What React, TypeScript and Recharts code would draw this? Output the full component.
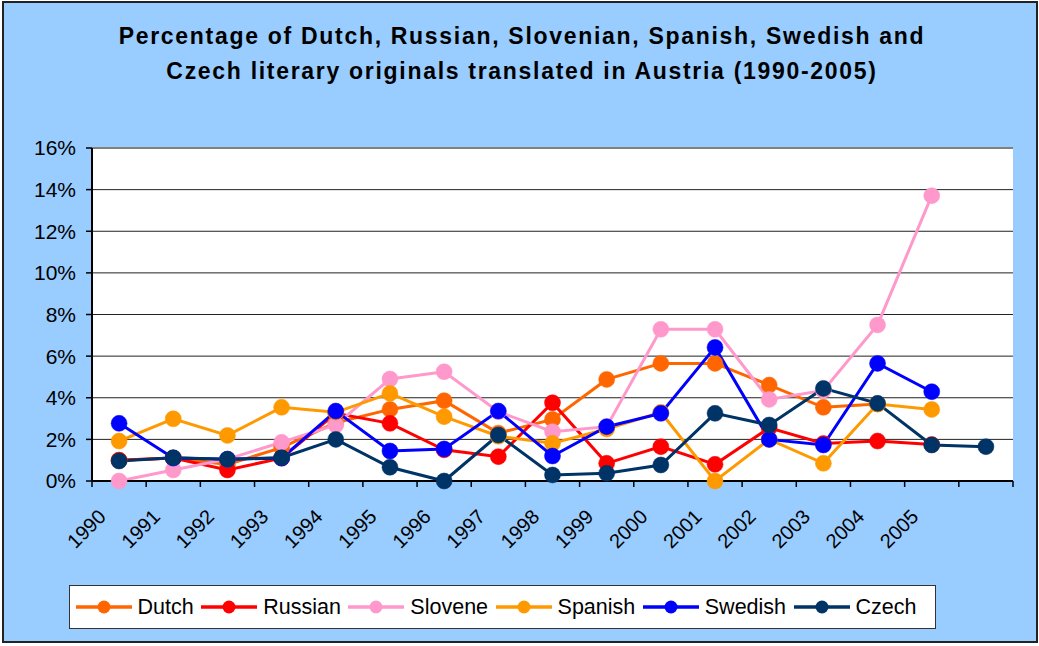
import React from 'react';
import { LineChart, Line, XAxis, YAxis, CartesianGrid, Legend, ReferenceLine } from 'recharts';

const years = ['1990', '1991', '1992', '1993', '1994', '1995', '1996', '1997', '1998', '1999', '2000', '2001', '2002', '2003', '2004', '2005', ''];
const yTicks = [0, 2, 4, 6, 8, 10, 12, 14, 16];

const dutch = [1.0, 1.1, 0.8, 1.6, 2.8, 3.44, 3.86, 2.3, 2.96, 4.88, 5.65, 5.65, 4.61, 3.54, 3.7, null, null];
const russian = [1.0, 1.1, 0.53, 1.1, 3.25, 2.77, 1.5, 1.17, 3.76, 0.85, 1.65, 0.8, 2.55, 1.8, 1.92, 1.75, null];
const slovene = [0, 0.53, 1.05, 1.86, 2.69, 4.9, 5.25, 3.33, 2.37, 2.61, 7.29, 7.29, 3.92, 4.35, 7.5, 13.71, null];
const spanish = [1.92, 2.99, 2.19, 3.54, 3.3, 4.21, 3.09, 2.15, 1.81, 2.5, 3.3, 0, 2.0, 0.85, 3.7, 3.44, null];
const swedish = [2.77, 1.1, 1.05, 1.1, 3.36, 1.44, 1.54, 3.36, 1.2, 2.61, 3.25, 6.42, 2.0, 1.73, 5.65, 4.29, null];
const czech = [0.96, 1.12, 1.04, 1.12, 2.0, 0.66, 0, 2.21, 0.29, 0.37, 0.77, 3.25, 2.69, 4.45, 3.73, 1.73, 1.65];

const seriesDefs = [
  { key: 'Dutch', color: '#FF6600', values: dutch },
  { key: 'Russian', color: '#FF0000', values: russian },
  { key: 'Slovene', color: '#FF99CC', values: slovene },
  { key: 'Spanish', color: '#FF9900', values: spanish },
  { key: 'Swedish', color: '#0000FF', values: swedish },
  { key: 'Czech', color: '#003366', values: czech },
];

const data = years.map((year, i) => {
  const row: Record<string, any> = { year };
  seriesDefs.forEach((s) => {
    row[s.key] = s.values[i];
  });
  return row;
});

const FONT = '"Liberation Sans", Arial, sans-serif';
const W = 1039;
const H = 646;
const PLOT_LEFT = 92;
const PLOT_RIGHT = 1013;
const PLOT_TOP = 148;
const PLOT_BOTTOM = 481;
const HALF = (PLOT_RIGHT - PLOT_LEFT) / (2 * years.length);

const XTick = (props: any) => {
  const { x, y, payload, index } = props;
  return (
    <g>
      <line x1={x - HALF} x2={x - HALF} y1={y} y2={y + 6} stroke="#000" strokeWidth={1.5} />
      {index === years.length - 1 && (
        <line x1={x + HALF} x2={x + HALF} y1={y} y2={y + 6} stroke="#000" strokeWidth={1.5} />
      )}
      <text
        transform={`translate(${x - 12},${y + 37}) rotate(-45)`}
        textAnchor="end"
        fontSize={20}
        fontFamily={FONT}
        fill="#000"
      >
        {payload.value}
      </text>
    </g>
  );
};

const renderLegend = () => (
  <div
    style={{
      width: '100%',
      height: '100%',
      boxSizing: 'border-box',
      border: '1.5px solid #333',
      background: '#fff',
      display: 'flex',
      alignItems: 'center',
      paddingLeft: 5.5,
      fontFamily: FONT,
      fontSize: 21.5,
      color: '#000',
    }}
  >
    {seriesDefs.map((s) => (
      <div key={s.key} style={{ display: 'flex', alignItems: 'center', marginRight: 7.5 }}>
        <svg width={56} height={16} style={{ display: 'block' }}>
          <line x1={0} x2={56} y1={8} y2={8} stroke={s.color} strokeWidth={3.5} />
          <circle cx={28} cy={8} r={6.5} fill={s.color} />
        </svg>
        <span style={{ marginLeft: 6, lineHeight: '24px' }}>{s.key}</span>
      </div>
    ))}
  </div>
);

export default function App() {
  return (
    <div style={{ position: 'absolute', left: 0, top: 0, width: W, height: H, fontFamily: FONT }}>
      <div
        style={{
          position: 'absolute',
          left: 2,
          top: 1,
          width: 1036,
          height: 642,
          background: '#99CCFF',
          border: '2px solid #222',
          boxSizing: 'border-box',
        }}
      />
      <div
        style={{
          position: 'absolute',
          left: 5,
          top: 19,
          width: 1034,
          textAlign: 'center',
          fontWeight: 'bold',
          fontSize: 23,
          letterSpacing: 1.7,
          lineHeight: '35px',
          color: '#000',
          whiteSpace: 'nowrap',
        }}
      >
        <div>Percentage of Dutch, Russian, Slovenian, Spanish, Swedish and</div>
        <div>Czech literary originals translated in Austria (1990-2005)</div>
      </div>
      <div style={{ position: 'absolute', left: 0, top: 0 }}>
        <LineChart
          width={W}
          height={H}
          data={data}
          margin={{ top: PLOT_TOP, right: W - PLOT_RIGHT, bottom: 105, left: 0 }}
        >
          <CartesianGrid vertical={false} stroke="#222" strokeWidth={1} fill="#fff" fillOpacity={1} />
          <XAxis
            dataKey="year"
            scale="point"
            padding={{ left: HALF, right: HALF }}
            interval={0}
            tickLine={false}
            tickSize={0}
            tickMargin={0}
            height={H - 105 - PLOT_BOTTOM}
            axisLine={{ stroke: '#000', strokeWidth: 2 }}
            tick={<XTick />}
          />
          <YAxis
            domain={[0, 16]}
            ticks={yTicks}
            interval={0}
            width={PLOT_LEFT}
            tickFormatter={(v: number) => `${v}%`}
            tickSize={6}
            tickMargin={10}
            axisLine={{ stroke: '#000', strokeWidth: 2 }}
            tickLine={{ stroke: '#000', strokeWidth: 1.5 }}
            tick={{ fontSize: 21, fill: '#000', fontFamily: FONT }}
          />
          <YAxis
            yAxisId="right"
            orientation="right"
            width={0}
            domain={[0, 16]}
            tick={false}
            tickLine={false}
            axisLine={{ stroke: '#808080', strokeWidth: 2.5 }}
          />
          <ReferenceLine y={16} stroke="#808080" strokeWidth={2} />
          {seriesDefs.map((s) => (
            <Line
              key={s.key}
              type="linear"
              dataKey={s.key}
              name={s.key}
              stroke={s.color}
              strokeWidth={3}
              dot={{ r: 8, fill: s.color, stroke: s.color, strokeWidth: 0.5 }}
              activeDot={false}
              isAnimationActive={false}
              connectNulls={false}
            />
          ))}
          <Legend
            layout="horizontal"
            verticalAlign="middle"
            align="center"
            wrapperStyle={{ left: 69, top: 585, width: 867, height: 44 }}
            content={renderLegend}
          />
        </LineChart>
      </div>
    </div>
  );
}
